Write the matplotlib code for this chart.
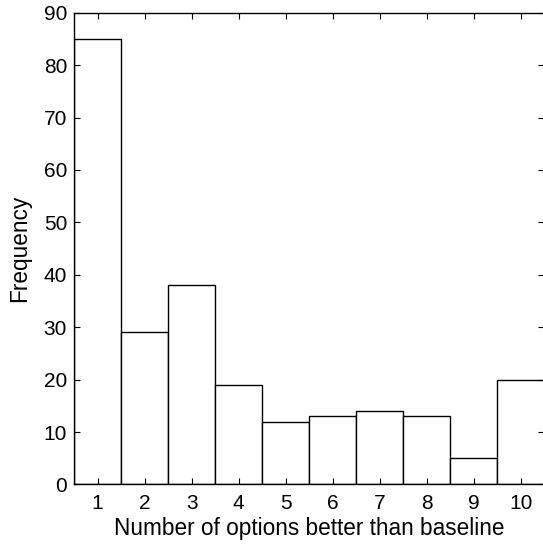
import matplotlib
matplotlib.use('agg')
import matplotlib.pyplot as plt

# histogram counts
options = [1, 2, 3, 4, 5, 6, 7, 8, 9, 10]
counts = [85, 29, 38, 19, 12, 13, 14, 13, 5, 20]
yticks = [0, 10, 20, 30, 40, 50, 60, 70, 80, 90]

plt.rcParams['font.family'] = ['Liberation Sans', 'DejaVu Sans']

fig = plt.figure(figsize=(5.43, 5.48), dpi=100)
ax = fig.add_axes([0.1363, 0.1159, 0.866, 0.861])

ax.bar(options, counts, width=1.0, color='white', edgecolor='black', linewidth=1.0)

ax.set_xlim(0.5, 10.5)
ax.set_ylim(0, 90)
ax.set_xticks(options)
ax.set_yticks(yticks)
ax.tick_params(direction='in', length=4, width=0.8, top=True, right=True,
               labelsize=15)
ax.tick_params(axis='x', pad=7)
ax.tick_params(axis='y', pad=5)
for s in ax.spines.values():
    s.set_linewidth(1.0)

ax.set_xlabel('Number of options better than baseline', fontsize=16.3, labelpad=3)
ax.set_ylabel('Frequency', fontsize=16.3, labelpad=9)

fig.savefig('out.png', dpi=100)
